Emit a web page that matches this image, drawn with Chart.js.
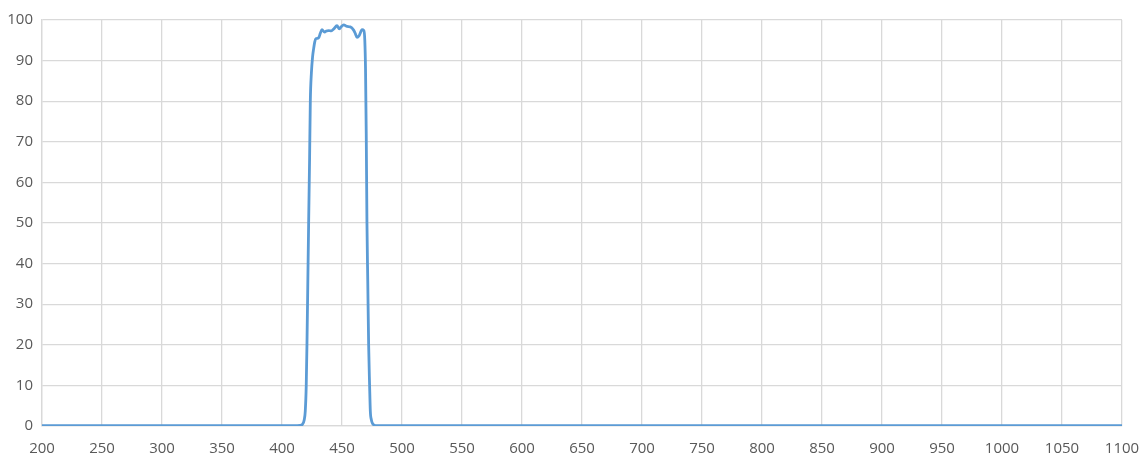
<!DOCTYPE html>
<html>
<head>
<meta charset="utf-8">
<script src="https://cdn.jsdelivr.net/npm/chart.js@4/dist/chart.umd.min.js"></script>
<style>
  html, body { margin: 0; padding: 0; background: #ffffff; }
  #wrap { width: 1139px; height: 463px; }
</style>
</head>
<body>
<div id="wrap"><canvas id="chart" width="1139" height="463"></canvas></div>
<script>
// DATA
var wavelength = [200, 300, 410, 415, 417, 418.5, 419.4, 420.2, 420.8, 421.5, 422.2, 423, 423.6,
  424.5, 425.5, 426.4, 427.3, 428.3, 430.5, 432, 433.3, 435.5, 437, 438.9, 441.1, 443.1, 445.8,
  447.8, 449.5, 451.4, 454.2, 456.9, 459.7, 461.2, 462.5, 464.4, 466.7, 468.2, 469, 469.6, 470.2,
  470.8, 471.5, 472.2, 473, 473.6, 474.5, 475.5, 477, 478, 500, 700, 900, 1100]
var transmission = [0.1, 0.1, 0.1, 0.15, 0.4, 1.5, 3.7, 10, 20, 35, 50, 66, 80,
  87, 91, 93, 94.6, 95.4, 95.6, 96.8, 97.6, 97.0, 97.3, 97.4, 97.3, 97.8, 98.6,
  97.8, 98.4, 98.8, 98.4, 98.3, 97.5, 96.6, 95.7, 96.2, 97.6, 97.4, 95, 88, 72,
  50, 35, 20, 10, 3.7, 1.5, 0.6, 0.2, 0.1, 0.1, 0.1, 0.1, 0.1]

// AXES
var xTicks = [200, 1100, 50]   // min, max, step
var yTicks = [0, 100, 10]

// COLORS
var blue = "#5B9BD5"
var grid = "#D9D9D9"
var text = "#595959"

var points = wavelength.map(function (w, i) { return { x: w, y: transmission[i] } })
var font = { family: "'Open Sans', sans-serif", size: 15 }
var plain = function (v) { return String(v) }

new Chart(document.getElementById('chart'), {
  type: 'line',
  data: {
    datasets: [{
      data: points,
      borderColor: blue,
      borderWidth: 2.8,
      pointRadius: 0,
      fill: false,
      cubicInterpolationMode: 'monotone'
    }]
  },
  options: {
    responsive: false,
    animation: false,
    layout: { padding: { top: 20, right: 0, left: 0, bottom: 0 } },
    plugins: { legend: { display: false }, tooltip: { enabled: false } },
    scales: {
      x: {
        type: 'linear',
        min: xTicks[0], max: xTicks[1],
        ticks: { stepSize: xTicks[2], color: text, font: font, padding: 14, maxRotation: 0, autoSkip: false, callback: plain },
        grid: { color: grid, lineWidth: 1.3, drawTicks: false },
        border: { color: grid, width: 1.3 },
        afterFit: function (s) { s.height = 37; s.paddingRight = 17; s.paddingLeft = 0 }
      },
      y: {
        min: yTicks[0], max: yTicks[1],
        ticks: { stepSize: yTicks[2], color: text, font: font, padding: 9, callback: plain },
        grid: { color: grid, lineWidth: 1.3, drawTicks: false },
        border: { color: grid, width: 1.3 },
        afterFit: function (s) { s.width = 42 }
      }
    }
  }
})
</script>
</body>
</html>
